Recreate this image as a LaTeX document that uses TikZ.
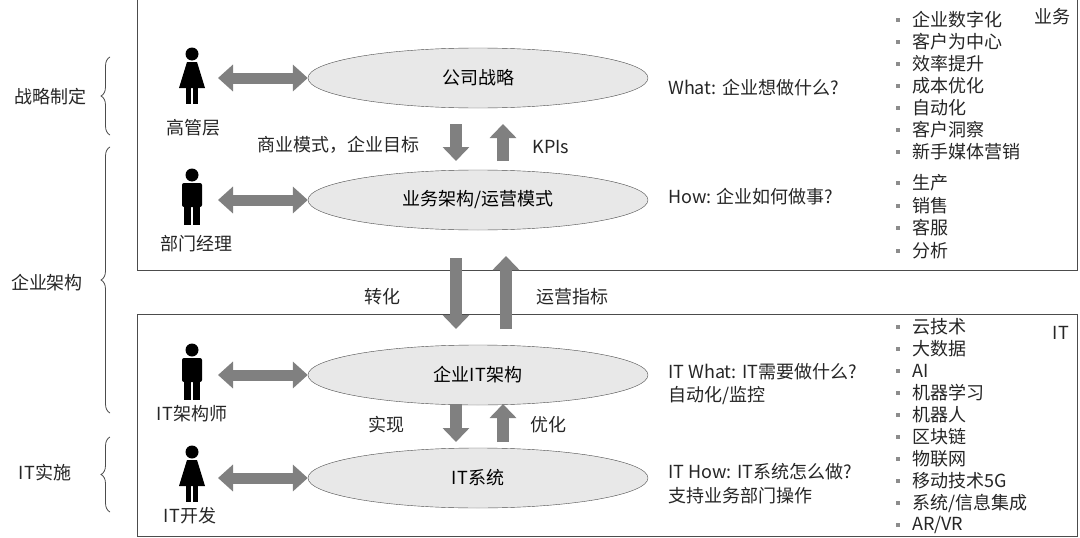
\documentclass[tikz,border=0pt]{standalone}
\usepackage{fontspec}
\setmainfont{Noto Sans CJK SC}
\usetikzlibrary{arrows.meta,decorations.pathreplacing,shapes.geometric}
\definecolor{ag}{RGB}{128,128,128}
\definecolor{eg}{RGB}{232,232,232}
\tikzset{
 ell/.style={draw=black!70,fill=eg,ellipse,minimum width=340pt,minimum height=60pt,font=\fontsize{18}{18}\selectfont},
 txt/.style={font=\fontsize{18}{18}\selectfont,inner sep=0pt,text=black!85},
 lt/.style={txt,anchor=west},
 darr/.style={ag,line width=11pt,{Triangle[width=26pt,length=15pt]}-{Triangle[width=26pt,length=15pt]}},
 varr/.style={ag,line width=12pt,-{Triangle[width=26pt,length=14pt]}},
 brc/.style={decorate,decoration={brace,amplitude=9pt},line width=0.8pt,black!70},
 panel/.style={draw=black!70,line width=1pt},
}
\newcommand{\female}[2]{%
 \fill (#1,#2-22) circle (6.5);
 \fill (#1-5,#2-14) -- (#1+5,#2-14) -- (#1+13,#2+12) -- (#1-13,#2+12) -- cycle;
 \fill (#1-6,#2+10) rectangle (#1-1,#2+28);
 \fill (#1+1,#2+10) rectangle (#1+6,#2+28);}
\newcommand{\male}[2]{%
 \fill (#1,#2-22) circle (6.5);
 \fill[rounded corners=2pt] (#1-10,#2-14) rectangle (#1+10,#2+10);
 \fill (#1-8,#2+8) rectangle (#1-1,#2+28);
 \fill (#1+1,#2+8) rectangle (#1+8,#2+28);}
\begin{document}
\begin{tikzpicture}[x=1pt,y=-1pt]
\useasboundingbox[fill=white] (0,0) rectangle (1080,538);
\draw[panel] (137,-2) rectangle (1077,270);
\draw[panel] (137,314) rectangle (1077,536);
\node[ell] (e1) at (478,78) {公司战略};
\node[ell] (e2) at (478,200) {业务架构/运营模式};
\node[ell] (e3) at (478,375) {企业IT架构};
\node[ell] (e4) at (478,478) {IT系统};
% persons
\female{192}{76}\male{192}{197}\male{192}{372}\female{192}{474}
\node[txt] (p1) at (193,128) {高管层};
\node[txt] (p2) at (196,244) {部门经理};
\node[txt] (p3) at (192,414) {IT架构师};
\node[txt] (p4) at (190,516) {IT开发};
\coordinate (a1) at (218,78);\coordinate (a2) at (218,200);\coordinate (a3) at (218,375);\coordinate (a4) at (218,478);
\draw[darr] (a1) -- (e1.west);\draw[darr] (a2) -- (e2.west);\draw[darr] (a3) -- (e3.west);\draw[darr] (a4) -- (e4.west);
% vertical arrows
\draw[varr] (456,124) -- (456,161);
\draw[varr] (503,161) -- (503,124);
\node[txt] (l1) at (338,145) {商业模式，企业目标};
\node[txt] (l2) at (551,147) {KPIs};
\draw[varr] (456,258) -- (456,329);
\draw[varr] (506,329) -- (506,256);
\node[txt] (l3) at (382,297) {转化};
\node[txt] (l4) at (572,297) {运营指标};
\draw[varr] (456,404) -- (456,442);
\draw[varr] (503,442) -- (503,404);
\node[txt] (l5) at (386,425) {实现};
\node[txt] (l6) at (548,425) {优化};
% right texts
\node[lt] at (668,88) {What: 企业想做什么?};
\node[lt] at (668,197) {How: 企业如何做事?};
\node[lt] at (668,372) {IT What: IT需要做什么?};
\node[lt] at (668,396) {自动化/监控};
\node[lt] at (668,472) {IT How: IT系统怎么做?};
\node[lt] at (668,496) {支持业务部门操作};
% lists
\foreach \t [count=\i from 0] in {企业数字化,客户为中心,效率提升,成本优化,自动化,客户洞察,新手媒体营销}{
 \node[lt] at (912,20+22*\i) {\t};
 \fill[black!45] (898,20+22*\i) ++(-2,-2) rectangle ++(4,4);}
\foreach \t [count=\i from 0] in {生产,销售,客服,分析}{
 \node[lt] at (912,183+22.5*\i) {\t};
 \fill[black!45] (898,183+22.5*\i) ++(-2,-2) rectangle ++(4,4);}
\foreach \t [count=\i from 0] in {云技术,大数据,AI,机器学习,机器人,区块链,物联网,移动技术5G,系统/信息集成,AR/VR}{
 \node[lt] at (912,327+22*\i) {\t};
 \fill[black!45] (898,327+22*\i) ++(-2,-2) rectangle ++(4,4);}
\node[txt] (b1) at (1052,17) {业务};
\node[txt] (b2) at (1061,333) {IT};
% braces
\draw[brc] (110,135) -- (110,57);
\draw[brc] (110,413) -- (110,147);
\draw[brc] (110,512) -- (110,437);
\node[txt] (g1) at (50,97) {战略制定};
\node[txt] (g2) at (47,283) {企业架构};
\node[txt] (g3) at (45,473) {IT实施};
\end{tikzpicture}
\end{document}
